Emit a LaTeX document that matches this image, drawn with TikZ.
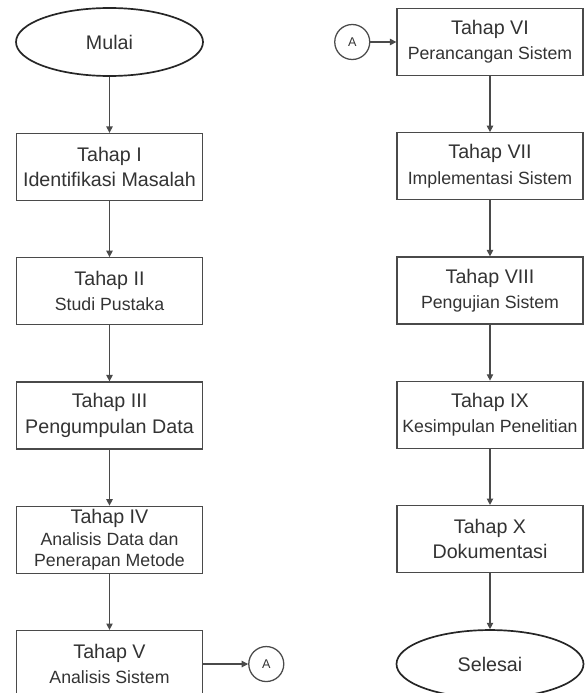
\documentclass[tikz,border=0pt]{standalone}
\usepackage{fontspec}
\setmainfont{Liberation Sans}
\usetikzlibrary{arrows.meta,positioning,shapes.geometric}
\definecolor{fcline}{HTML}{4A4A4A}
\definecolor{fctext}{HTML}{333333}
\newcommand{\stagesub}[1]{{\fontsize{12.6}{16}\selectfont #1}}

\begin{document}
\begin{tikzpicture}[
  stage/.style={rectangle, draw=fcline, line width=0.9pt, fill=white,
                minimum width=4.65cm, minimum height=1.675cm, inner sep=1pt,
                align=center, text=fctext, font=\fontsize{14}{18}\selectfont},
  terminal/.style={ellipse, draw=black!85, line width=1.2pt, fill=white,
                   minimum width=4.675cm, minimum height=1.7cm, inner sep=0pt,
                   text=fctext, font=\fontsize{14}{18}\selectfont},
  offpage/.style={circle, draw=fcline, line width=0.9pt, minimum size=0.875cm,
                  inner sep=0pt, text=fctext, font=\fontsize{9}{10}\selectfont},
  flow/.style={-{Triangle[length=1.6mm,width=1.6mm]}, line width=0.8pt, draw=fcline},
]
  \useasboundingbox (0,0) rectangle (14.6,-17.325);

  % Left column -------------------------------------------------------------
  \node[terminal] (mulai) at (2.7375,-1.05) {Mulai};
  \node[stage, below=1.4cm of mulai] (tahap1) {Tahap I\\Identifikasi Masalah};
  \node[stage, below=1.4cm of tahap1] (tahap2) {Tahap II\\\stagesub{Studi Pustaka}};
  \node[stage, below=1.4cm of tahap2] (tahap3) {Tahap III\\Pengumpulan Data};
  \node[stage, below=1.4cm of tahap3] (tahap4)
    {Tahap IV\\[-3pt]\stagesub{Analisis Data dan}\\[-3pt]\stagesub{Penerapan Metode}};
  \node[stage, below=1.4cm of tahap4] (tahap5) {Tahap V\\\stagesub{Analisis Sistem}};
  \node[offpage, right=1.125cm of tahap5] (connout) {A};

  \draw[flow] (mulai) -- (tahap1);
  \draw[flow] (tahap1) -- (tahap2);
  \draw[flow] (tahap2) -- (tahap3);
  \draw[flow] (tahap3) -- (tahap4);
  \draw[flow] (tahap4) -- (tahap5);
  \draw[flow] (tahap5) -- (connout);

  % Right column ------------------------------------------------------------
  \node[stage] (tahap6) at (12.25,-1.05) {Tahap VI\\\stagesub{Perancangan Sistem}};
  \node[offpage, left=0.65cm of tahap6] (connin) {A};
  \node[stage, below=1.4cm of tahap6] (tahap7) {Tahap VII\\\stagesub{Implementasi Sistem}};
  \node[stage, below=1.4cm of tahap7] (tahap8) {Tahap VIII\\\stagesub{Pengujian Sistem}};
  \node[stage, below=1.4cm of tahap8] (tahap9) {Tahap IX\\\stagesub{Kesimpulan Penelitian}};
  \node[stage, below=1.4cm of tahap9] (tahap10) {Tahap X\\Dokumentasi};
  \node[terminal, below=1.4cm of tahap10] (selesai) {Selesai};

  \draw[flow] (connin) -- (tahap6);
  \draw[flow] (tahap6) -- (tahap7);
  \draw[flow] (tahap7) -- (tahap8);
  \draw[flow] (tahap8) -- (tahap9);
  \draw[flow] (tahap9) -- (tahap10);
  \draw[flow] (tahap10) -- (selesai);
\end{tikzpicture}
\end{document}
